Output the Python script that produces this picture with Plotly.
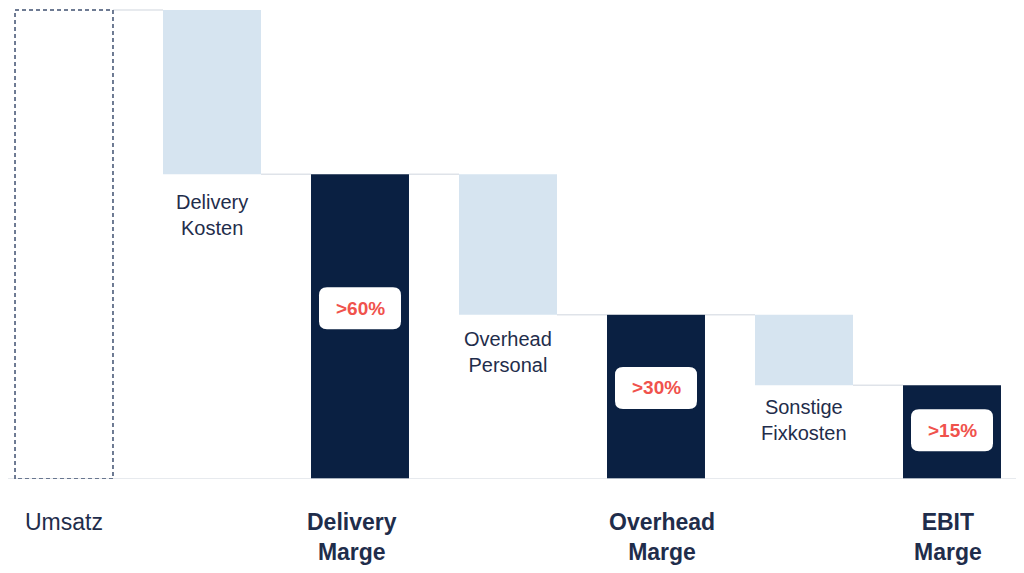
import plotly.graph_objects as go

categories = ["Umsatz", "Delivery Kosten", "Delivery Marge", "Overhead Personal",
              "Overhead Marge", "Sonstige Fixkosten", "EBIT Marge"]
values = [100, 35, 65, 30, 35, 15, 20]
kinds = ["total", "cost", "total", "cost", "total", "cost", "total"]
inner_labels = ["", "Delivery<br>Kosten", "", "Overhead<br>Personal", "", "Sonstige<br>Fixkosten", ""]
bottom_labels = ["Umsatz", "<b>Delivery<br>Marge</b>", "<b>Overhead<br>Marge</b>", "<b>EBIT<br>Marge</b>"]
bottom_pos = [0, 2, 4, 6]
pct_labels = ["", "", ">60%", "", ">30%", "", ">15%"]

# styling (pixel offsets per bar)
INNER_SHIFT = {1: -15, 3: -11, 5: -9}
PCT_FRAC = {2: 0.56, 4: 0.555, 6: 0.52}
BOTTOM_XSHIFT = {0: 0, 2: -8, 4: 6, 6: -4}

NAVY = "#0a2042"
LIGHT = "#d6e4f0"
TEXT = "#1f2d4b"
RED = "#f0524c"
GRID = "#dfe3e9"
FONT = "Liberation Sans, Arial, sans-serif"
W = 0.662

x = list(range(len(categories)))
bases, tops = [], []
level = 0
for v, k in zip(values, kinds):
    if k == "total":
        bases.append(0)
        tops.append(v)
        level = v
    else:
        bases.append(level - v)
        tops.append(level)
        level = level - v

fig = go.Figure()

# baseline
fig.add_trace(go.Scatter(x=[-1, 8], y=[0, 0], mode="lines",
                         line=dict(color=GRID, width=1.5), hoverinfo="skip", showlegend=False))

# connectors
cx, cy = [], []
for i in range(len(values) - 1):
    lvl = tops[i] if kinds[i] == "total" else bases[i]
    cx += [i + W / 2, i + 1 - W / 2, None]
    cy += [lvl, lvl, None]
fig.add_trace(go.Scatter(x=cx, y=cy, mode="lines", line=dict(color=GRID, width=1.5),
                         hoverinfo="skip", showlegend=False))

# bars (the first one is drawn as a dashed outline)
fig.add_trace(go.Bar(
    x=x[1:], y=values[1:], base=bases[1:], width=W,
    marker=dict(color=[NAVY if k == "total" else LIGHT for k in kinds[1:]], line=dict(width=0)),
    hoverinfo="skip", showlegend=False))

fig.add_trace(go.Scatter(
    x=[x[0] - W / 2, x[0] - W / 2, x[0] + W / 2, x[0] + W / 2, x[0] - W / 2],
    y=[bases[0], tops[0], tops[0], bases[0], bases[0]],
    mode="lines", line=dict(color="#3f5070", width=1.5, dash="4px,3px"),
    hoverinfo="skip", showlegend=False))

annotations = []
shapes = []
for i in range(len(values)):
    if inner_labels[i]:
        annotations.append(dict(x=x[i], y=bases[i], xref="x", yref="y", text=inner_labels[i],
                                showarrow=False, yanchor="top", yshift=INNER_SHIFT.get(i, -13),
                                font=dict(family=FONT, size=20, color=TEXT)))
    if pct_labels[i]:
        yc = values[i] * PCT_FRAC.get(i, 0.55)
        shapes.append(dict(type="path", xref="x", yref="y", xsizemode="pixel", ysizemode="pixel",
                           xanchor=x[i], yanchor=yc,
                           path="M -33 -21 L 33 -21 Q 41 -21 41 -13 L 41 13 Q 41 21 33 21 "
                                "L -33 21 Q -41 21 -41 13 L -41 -13 Q -41 -21 -33 -21 Z",
                           fillcolor="white", line=dict(width=0), layer="above"))
        annotations.append(dict(x=x[i], y=yc, xref="x", yref="y", text="<b>" + pct_labels[i] + "</b>",
                                showarrow=False, yanchor="middle",
                                font=dict(family=FONT, size=19, color=RED)))
for lbl, p in zip(bottom_labels, bottom_pos):
    annotations.append(dict(x=p, y=0, xref="x", yref="y", text=lbl, showarrow=False,
                            yanchor="top", yshift=-28, xshift=BOTTOM_XSHIFT.get(p, 0),
                            font=dict(family=FONT, size=23, color=TEXT)))

fig.update_layout(
    width=1024, height=573,
    margin=dict(l=0, r=0, t=0, b=102),
    paper_bgcolor="white", plot_bgcolor="white",
    barmode="overlay",
    xaxis=dict(range=[-56 / 148, 968 / 148], showgrid=False, zeroline=False,
               showticklabels=False, fixedrange=True),
    yaxis=dict(range=[0, 100 * 471 / 469], showgrid=False, zeroline=False,
               showticklabels=False, fixedrange=True),
    shapes=shapes, annotations=annotations,
)

fig.write_html("out.html")
